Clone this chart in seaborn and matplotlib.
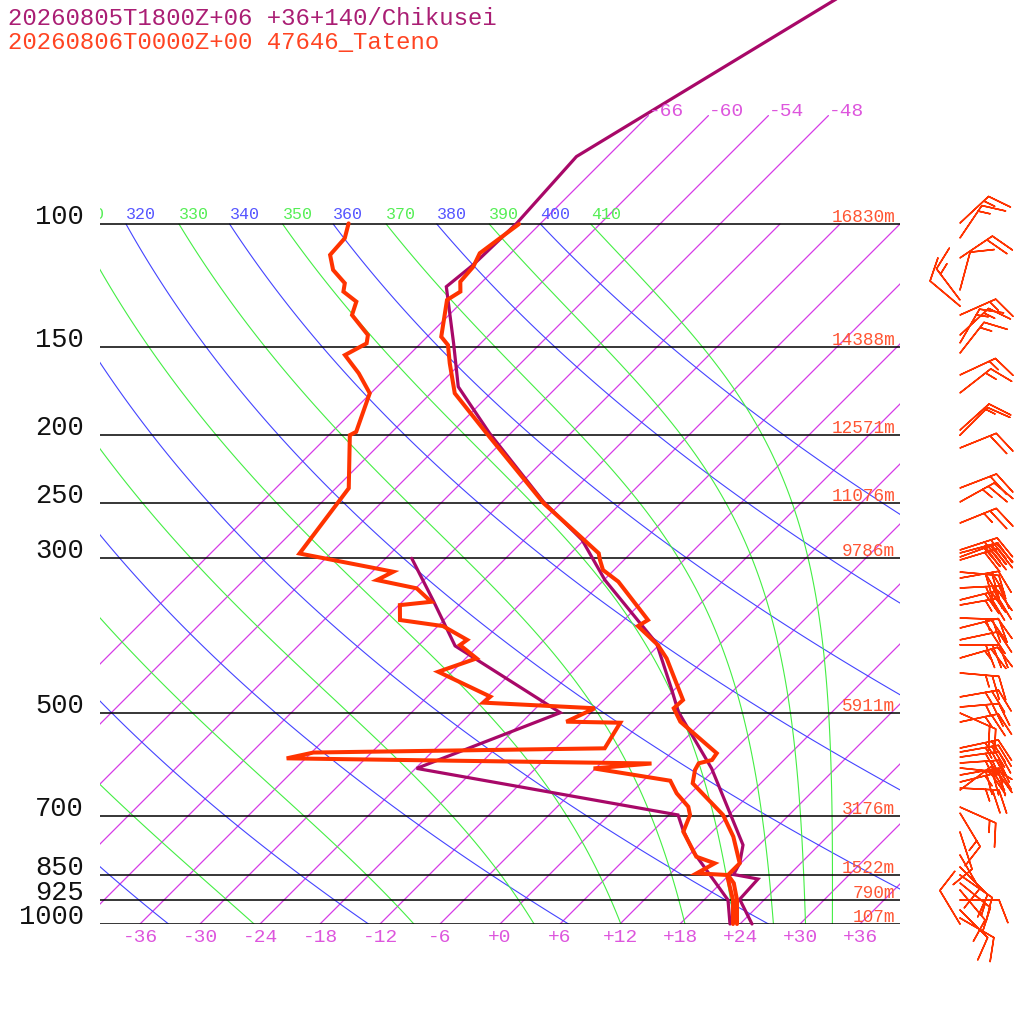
"""Skew-T 再現: Chikusei 予報 vs Tateno 観測 (2026-08-06 00Z)."""

import matplotlib
matplotlib.use("Agg")
import matplotlib.pyplot as plt
import matplotlib.transforms as mtransforms
import numpy as np
import seaborn as sns

sns.set_style("white")
plt.rcParams["font.family"] = ["Liberation Mono", "DejaVu Sans Mono"]

DPI = 100
SKEW = 70.0                       # 1 decade of pressure = 70 deg of skew (45 deg)
P_TOP = 1000 * 10 ** (-924 / 700)  # pressure at the figure top

# ── observed (Tateno) ─────────────────────────────────────
OBS_T_P = [1000, 924.1, 874.4, 851.1, 819.0, 750.3, 698.6, 629.5, 602.6, 589.4,
           583.1, 570.3, 514.0, 491.8, 478.6, 417.4, 399.5, 375.3, 367.9, 324.3,
           312.1, 302.0, 295.4, 279.6, 250.6, 199.1, 174.5, 158.1, 148.9, 144.9,
           128.4, 124.9, 120.9, 115.1, 110.1, 100.0]
OBS_T = [23.7, 21.3, 19.3, 17.9, 17.9, 14.6, 11.4, 5.2, 4.1, 3.8,
         4.8, 4.6, -2.2, -4.2, -4.1, -9.9, -12.1, -16.0, -15.6, -22.4,
         -25.1, -26.4, -27.2, -30.7, -37.7, -50.4, -57.6, -61.1, -63.1, -64.6,
         -67.7, -67.2, -68.2, -68.4, -69.1, -68.1]

OBS_TD_P = [1000, 924.1, 851.1, 846.4, 819.0, 801.4, 738.1, 698.6, 679.9, 650.6,
            624.2, 599.4, 589.8, 579.9, 568.9, 561.1, 515.8, 514.0, 491.8, 482.8,
            473.4, 436.2, 417.4, 399.5, 392.7, 375.3, 367.9, 350.3, 346.5, 331.5,
            322.6, 313.9, 295.6, 238.5, 200.3, 198.1, 174.5, 163.4, 153.9, 148.1,
            144.1, 134.9, 129.1, 124.9, 121.5, 116.3, 110.7, 104.8, 99.8]
OBS_TD = [23.3, 20.9, 17.8, 14.6, 15.4, 12.9, 9.1, 8.1, 7.1, 4.6,
          2.7, -6.2, -0.9, -37.9, -35.8, -7.1, -8.1, -13.6, -12.1, -23.8,
          -23.7, -31.4, -28.9, -31.9, -31.7, -35.5, -40.4, -41.9, -39.1, -41.9,
          -46.7, -45.9, -57.1, -58.7, -63.9, -63.6, -66.1, -69.2, -72.4, -71.4,
          -72.1, -75.7, -76.6, -78.9, -79.6, -82.1, -83.9, -84.1, -85.2]

# ── forecast (Chikusei +06h) ──────────────────────────────
FC_T_P = [1000, 922.0, 862.5, 849.6, 819.0, 771.1, 599.4, 497.4, 463.3, 397.3,
          322.6, 282.7, 249.2, 199.1, 170.8, 148.1, 122.9, 114.4, 99.8, 80.1, 40.0]
FC_T = [25.2, 21.5, 21.3, 18.4, 17.9, 16.4, 5.6, -3.4, -6.2, -12.4,
        -23.9, -30.2, -37.9, -50.1, -57.9, -62.7, -69.1, -68.6, -68.4, -69.1, -55.4]

FC_TD_P = [1000, 924.1, 788.4, 734.0, 698.6, 599.4, 499.0, 400.6, 344.5, 300.3]
FC_TD = [23.0, 20.4, 12.1, 8.9, 6.9, -23.9, -15.1, -32.3, -39.1, -45.4]

# ── standard levels / heights ─────────────────────────────
LEVELS = [1000, 925, 850, 700, 500, 300, 250, 200, 150, 100]
HEIGHTS = ["107m", "790m", "1522m", "3176m", "5911m", "9786m", "11076m",
           "12571m", "14388m", "16830m"]

# ── observed winds (direction from, speed kt) ────────────
WIND_P = [99.7, 104.7, 111.8, 124.2, 128.4, 131.0, 134.9, 144.1, 147.9, 152.9,
          164.3, 174.3, 197.0, 200.3, 208.9, 238.3, 249.5, 267.4, 292.2, 295.1,
          299.0, 302.0, 314.2, 320.5, 331.1, 344.4, 350.2, 365.5, 377.7, 392.7,
          399.2, 416.9, 437.9, 473.8, 489.8, 499.6, 514.6, 560.6, 568.0, 577.5,
          588.8, 598.6, 612.6, 626.9, 639.4, 643.6, 680.7, 694.2, 739.0, 797.1,
          829.1, 851.1, 873.8, 894.3, 924.1, 955.0, 980.5, 1000.0]
WIND_DIR = [227, 214, 236, 195, 143, 130, 246, 227, 210, 218,
            245, 232, 228, 225, 248, 249, 241, 248, 252, 255,
            250, 253, 275, 260, 267, 256, 260, 272, 256, 258,
            270, 254, 275, 260, 265, 294, 258, 258, 260, 262,
            266, 276, 260, 256, 273, 233, 294, 329, 342, 330,
            315, 305, 309, 320, 270, 315, 300, 149]
WIND_SPD = [15, 15, 20, 10, 15, 10, 15, 15, 15, 15,
            15, 15, 15, 10, 20, 20, 25, 25, 30, 30,
            30, 30, 30, 30, 30, 30, 25, 25, 25, 20,
            30, 25, 25, 25, 25, 20, 25, 25, 25, 30,
            25, 30, 20, 25, 25, 15, 15, 15, 10, 10,
            10, 10, 15, 10, 10, 10, 10, 10]

C_OBS = "#FF3300"
C_FC = "#A80868"
C_ISO = "#D63CE6"
C_DRY = "#4444FF"
C_WET = "#44EE44"


def skew_x(t, p):
    return np.asarray(t, dtype=float) + SKEW * np.log10(1000.0 / np.asarray(p, dtype=float))


def theta_e_sat(t_c, p):
    """Bolton (1980) 飽和相当温位."""
    es = 6.112 * np.exp(17.67 * t_c / (t_c + 243.5))
    r = 622.0 * es / (p - es)
    tk = t_c + 273.15
    return (tk * (1000.0 / p) ** (0.2854 * (1 - 0.28e-3 * r))
            * np.exp((3.376 / tk - 0.00254) * r * (1 + 0.81e-3 * r)))


def moist_adiabat(the, pres):
    out = []
    for p in pres:
        tg = np.linspace(-130, 45, 1751)
        es = 6.112 * np.exp(17.67 * tg / (tg + 243.5))
        tg = tg[es < 0.5 * p]
        out.append(np.interp(the, theta_e_sat(tg, p), tg))
    return np.array(out)


fig = plt.figure(figsize=(10.24, 10.24), dpi=DPI)
ax = fig.add_axes([100 / 1024, 100 / 1024, 800 / 1024, 924 / 1024])
ax.set_yscale("log")

# 等温線
for t in range(-66, 37, 6):
    p_end = 70 if t <= -48 else 100
    pp = np.geomspace(1000, p_end, 50)
    ax.plot(skew_x(np.full_like(pp, t), pp), pp, color=C_ISO, lw=0.9)
    if t <= -48:
        ax.text(skew_x(t, 70), 70, f"{t:+d}", color="#DD55DD", fontsize=14,
                ha="left", va="baseline")
    if t >= -36:
        ax.text(t, 1061, f"{t:+d}", color="#DD55DD", fontsize=14, ha="center",
                va="baseline", clip_on=False)

# 乾燥断熱線 / 湿潤断熱線 (ラベルは左端で切れる 310 まで)
pp = np.geomspace(1000, 100, 120)
lab_tr = mtransforms.offset_copy(ax.transData, fig, x=0, y=2, units="dots")
for th in range(240, 401, 20):
    tt = th * (pp / 1000.0) ** 0.2857 - 273.15
    ax.plot(skew_x(tt, pp), pp, color=C_DRY, lw=0.8)
    if skew_x(tt[-1], 100) > -43:
        ax.text(skew_x(tt[-1], 100), 100, str(th), color="#5555FF", fontsize=12,
                ha="left", va="bottom", clip_on=True, transform=lab_tr)
for the in range(250, 411, 20):
    tt = moist_adiabat(the, pp)
    ax.plot(skew_x(tt, pp), pp, color=C_WET, lw=0.8)
    if skew_x(tt[-1], 100) > -43:
        ax.text(skew_x(tt[-1], 100), 100, str(the), color="#55EE55", fontsize=12,
                ha="left", va="bottom", clip_on=True, transform=lab_tr)

# 指定気圧面
h_tr = mtransforms.offset_copy(ax.transData, fig, x=0, y=2, units="dots")
for lev, hgt in zip(LEVELS, HEIGHTS):
    ax.plot([-40, 40], [lev, lev], color="black", lw=1.1)
    ax.text(-41.6, lev, str(lev), fontsize=19.5, ha="right", va="baseline",
            color="#111111", clip_on=False)
    ax.text(39.5, lev, hgt, fontsize=12.8, ha="right", va="baseline",
            color="#FF5533", transform=h_tr)

# プロファイル
for p_arr, t_arr, col, lw in [(FC_T_P, FC_T, C_FC, 2.3), (FC_TD_P, FC_TD, C_FC, 2.3),
                              (OBS_T_P, OBS_T, C_OBS, 2.9), (OBS_TD_P, OBS_TD, C_OBS, 2.9)]:
    sns.lineplot(x=skew_x(t_arr, p_arr), y=p_arr, sort=False, estimator=None,
                 color=col, linewidth=lw, solid_joinstyle="miter", ax=ax,
                 clip_on=False)

ax.set_xlim(-40, 40)
ax.set_ylim(1000, P_TOP)
ax.axis("off")

# 風
axw = fig.add_axes([920 / 1024, 100 / 1024, 80 / 1024, 924 / 1024])
axw.set_yscale("log")
wd = np.deg2rad(WIND_DIR)
spd = np.asarray(WIND_SPD, dtype=float)
axw.barbs(np.full(len(WIND_P), 0.5), WIND_P, spd * np.sin(wd), spd * np.cos(wd),
          length=7.5, color=C_OBS, linewidth=1.1, pivot="tip", clip_on=False,
          sizes=dict(spacing=0.17, height=0.58, width=0.45, emptybarb=0.0))
axw.set_xlim(0, 1)
axw.set_ylim(1000, P_TOP)
axw.axis("off")

fig.text(8 / 1024, 1 - 25 / 1024, "20260805T1800Z+06 +36+140/Chikusei",
         fontsize=17.3, color="#AA1E74", va="baseline")
fig.text(8 / 1024, 1 - 49 / 1024, "20260806T0000Z+00 47646_Tateno",
         fontsize=17.3, color="#FF4422", va="baseline")

fig.savefig("out.png", dpi=DPI)
